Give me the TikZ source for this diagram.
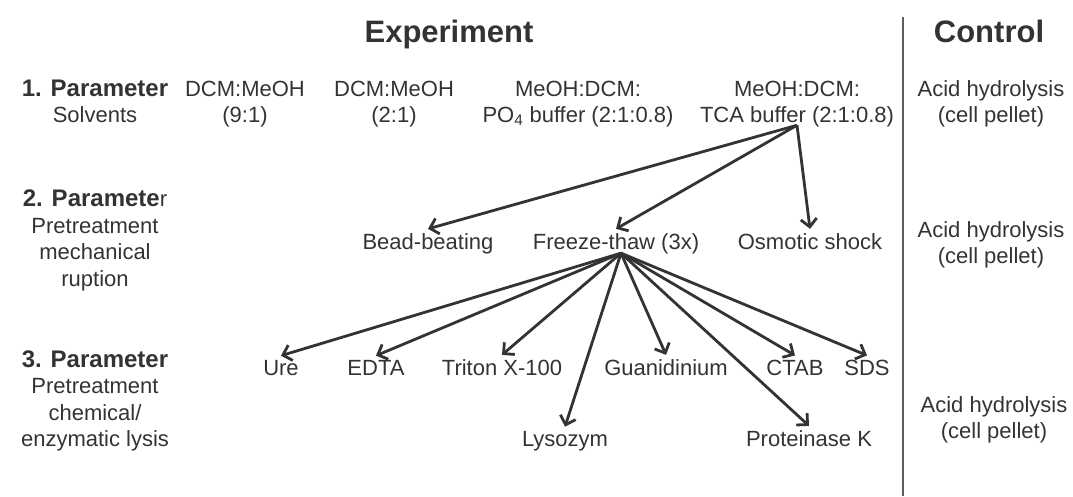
\documentclass[tikz,border=0pt]{standalone}
\usepackage{fontspec}
\setmainfont{Liberation Sans}
\usetikzlibrary{arrows.meta}
\definecolor{ink}{HTML}{333333}
\tikzstyle{lbl}=[text=ink, font=\fontsize{22}{26.5}\selectfont, align=center, anchor=base, inner sep=4pt]
\tikzstyle{hd}=[text=ink, font=\fontsize{31}{36}\selectfont\bfseries, anchor=base]
\tikzstyle{arr}=[draw=ink, line width=2.8pt, -{Straight Barb[length=8pt,width=16pt]}]
\newcommand{\pbold}[1]{{\fontsize{24}{26.5}\selectfont\bfseries #1}}

\begin{document}
\begin{tikzpicture}[x=1pt,y=-1pt]
\useasboundingbox (0,0) rectangle (1073,496);

% headings
\node[hd] (exp) at (449,42) {Experiment};
\node[hd] (ctl) at (989,42) {Control};
\coordinate (septop) at (903,17);
\coordinate (sepbot) at (903,496);
\draw[draw=ink!80, line width=2pt] (septop) -- (sepbot);

% parameters (base = last line)
\node[lbl] (parama) at (95,122.5) {\pbold{1. Parameter}\\Solvents};
\node[lbl] (paramb) at (95,286) {\pbold{2. Paramete}r\\Pretreatment\\mechanical\\ruption};
\node[lbl] (paramc) at (95,446.5) {\pbold{3. Parameter}\\Pretreatment\\chemical/\\enzymatic lysis};

% solvents
\node[lbl] (dcma) at (245,122.5) {DCM:MeOH\\(9:1)};
\node[lbl] (dcmb) at (394,122.5) {DCM:MeOH\\(2:1)};
\node[lbl] (po) at (578,122.5) {MeOH:DCM:\\PO\textsubscript{4} buffer (2:1:0.8)};
\node[lbl] (tca) at (797,122.5) {MeOH:DCM:\\TCA buffer (2:1:0.8)};

% pretreatment
\node[lbl] (bead) at (428,249) {Bead-beating};
\node[lbl] (freeze) at (616,249) {Freeze-thaw (3x)};
\node[lbl] (osmo) at (810,249) {Osmotic shock};

% lysis
\node[lbl] (ure) at (281,375) {Ure};
\node[lbl] (edta) at (376,375) {EDTA};
\node[lbl] (triton) at (502,375) {Triton X-100};
\node[lbl] (guan) at (666,375) {Guanidinium};
\node[lbl] (ctab) at (795,375) {CTAB};
\node[lbl] (sds) at (867,375) {SDS};
\node[lbl] (lyso) at (565,446) {Lysozym};
\node[lbl] (prot) at (809,446) {Proteinase K};

% control
\node[lbl] (ctrla) at (991,122.5) {Acid hydrolysis\\(cell pellet)};
\node[lbl] (ctrlb) at (991,263.5) {Acid hydrolysis\\(cell pellet)};
\node[lbl] (ctrlc) at (994,438.5) {Acid hydrolysis\\(cell pellet)};

\foreach \t in {bead,freeze,osmo}
  \draw[arr] ([yshift=6pt]tca.south) -- (\t.north);
\foreach \t in {ure,edta,triton,lyso,guan,prot,ctab,sds}
  \draw[arr] ([xshift=5pt,yshift=4.6pt]freeze.south) -- (\t.north);
\end{tikzpicture}
\end{document}
